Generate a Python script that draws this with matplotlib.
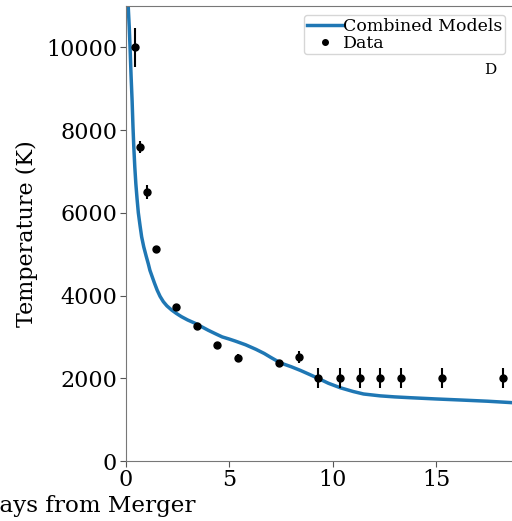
import numpy as np
import matplotlib
matplotlib.use("Agg")
import matplotlib.pyplot as plt

plt.rcParams['font.family'] = ['DejaVu Serif']

# Observed temperatures with uncertainties
data_days = [0.48, 0.68, 1.05, 1.45, 2.46, 3.46, 4.44, 5.43, 7.42, 8.39,
             9.31, 10.35, 11.34, 12.29, 13.3, 15.27, 18.24]
data_temp = [10000, 7590, 6500, 5120, 3730, 3260, 2800, 2495, 2370, 2520,
             2005, 2005, 2005, 2005, 2005, 2005, 2005]
data_err = [470, 150, 170, 50, 50, 50, 50, 100, 50, 150,
            250, 250, 250, 250, 250, 250, 250]

# Combined model temperature curve
model_days = [0.04, 0.10, 0.13, 0.18, 0.22, 0.27, 0.32, 0.36, 0.40, 0.45,
              0.50, 0.56, 0.62, 0.70, 0.78, 0.88, 1.0, 1.1, 1.18, 1.3,
              1.4, 1.53, 1.67, 1.83, 2.0, 2.23, 2.45, 2.7, 3.0, 3.36,
              3.7, 4.0, 4.33, 4.67, 5.0, 5.3, 5.8, 6.3, 6.7, 7.0,
              7.49, 8.0, 8.45, 8.9, 9.34, 9.8, 10.38, 11.0, 11.5, 12.3,
              13.0, 13.76, 15.0, 16.17, 17.5, 18.69, 21.0]
model_temp = [12500, 11400, 11000, 10500, 10000, 9300, 8700, 8100, 7600, 7100,
              6700, 6330, 6000, 5700, 5420, 5180, 4950, 4770, 4610, 4440,
              4300, 4130, 3980, 3850, 3750, 3650, 3570, 3490, 3410, 3330,
              3240, 3160, 3080, 3000, 2950, 2900, 2810, 2700, 2600, 2510,
              2370, 2280, 2190, 2090, 1990, 1880, 1770, 1680, 1620, 1575,
              1550, 1530, 1500, 1475, 1445, 1410, 1370]

W, H = 512, 521
fig = plt.figure(figsize=(W / 100, H / 100), dpi=100)
ax_left, ax_bottom, ax_top = 125.5, 461, 6
px_per_day = 20.7
x_max = 20
ax = fig.add_axes([ax_left / W, (H - ax_bottom) / H,
                   x_max * px_per_day / W, (ax_bottom - ax_top) / H])

ax.plot(model_days, model_temp, color='#1f77b4', lw=2.5, label='Combined Models')
ax.errorbar(data_days, data_temp, yerr=data_err, fmt='none', ecolor='black',
            elinewidth=1.5, capsize=0)
ax.plot(data_days, data_temp, 'o', color='black', ms=5, label='Data')

ax.set_xlim(0, x_max)
ax.set_ylim(0, 11000)
ax.set_xticks([0, 5, 10, 15])
ax.set_yticks([0, 2000, 4000, 6000, 8000, 10000])
ax.tick_params(labelsize=16, length=4, color='#555555', pad=2)
for s in ax.spines.values():
    s.set_color('#777777')

ax.set_ylabel('Temperature (K)', fontsize=16, labelpad=6)
fig.text(-19 / W, 1 - 506 / H, 'Days from Merger', fontsize=16.6,
         ha='left', va='center')

ax.legend(loc='upper right', bbox_to_anchor=(505 / W, 1 - 15 / H),
          bbox_transform=fig.transFigure, borderaxespad=0, borderpad=0.15,
          handletextpad=0, handlelength=2.1, labelspacing=0, fontsize=12.5,
          markerscale=0.8)
fig.text(490 / W, 1 - 70 / H, 'D', fontsize=11, ha='center', va='center')

fig.savefig('out.png', dpi=100)
